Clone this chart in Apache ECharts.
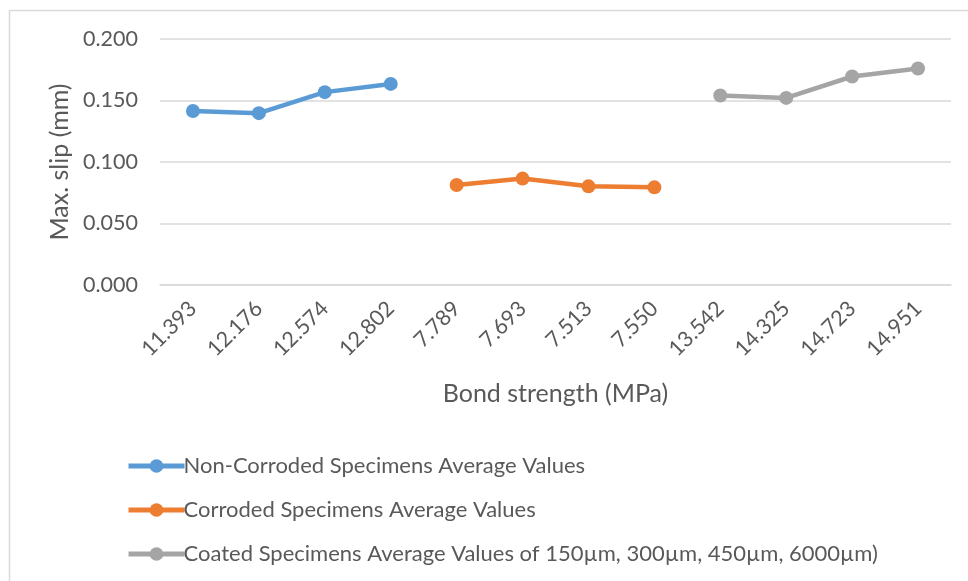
<!DOCTYPE html>
<html>
<head>
<meta charset="utf-8">
<script src="https://cdn.jsdelivr.net/npm/echarts@6/dist/echarts.min.js"></script>
<style>
  html, body { margin: 0; padding: 0; background: #fff; }
  #chart { width: 968px; height: 581px; }
</style>
</head>
<body>
<div id="chart"></div>
<script>
// bond strength categories (MPa), as printed on the x axis
var categories = ['11.393', '12.176', '12.574', '12.802', '7.789', '7.693', '7.513', '7.550', '13.542', '14.325', '14.723', '14.951'];

// max slip (mm)
var nonCorroded = [0.1415, 0.1397, 0.1568, 0.1635, null, null, null, null, null, null, null, null];
var corroded = [null, null, null, null, 0.0813, 0.0865, 0.0802, 0.0794, null, null, null, null];
var coated = [null, null, null, null, null, null, null, null, 0.1541, 0.1521, 0.1695, 0.1760];

var seriesNames = [
    'Non-Corroded Specimens Average Values',
    'Corroded Specimens Average Values',
    'Coated Specimens Average Values of 150\u00b5m, 300\u00b5m, 450\u00b5m, 6000\u00b5m)'
];
var colors = ['#5b9bd5', '#ed7d31', '#a5a5a5'];

var font = 'Lato, "Open Sans", sans-serif';
var txt = '#595959';

function lineSeries(name, data, color) {
    return {
        name: name,
        type: 'line',
        data: data,
        connectNulls: false,
        symbol: 'circle',
        symbolSize: 14,
        lineStyle: { width: 4.5, color: color },
        itemStyle: { color: color },
        emphasis: { disabled: true }
    };
}

var chart = echarts.init(document.getElementById('chart'));
chart.setOption({
    animation: false,
    color: colors,
    textStyle: { fontFamily: font, color: txt },
    graphic: [
        { type: 'line', shape: { x1: 9, y1: 10.5, x2: 968, y2: 10.5 }, style: { stroke: '#d9d9d9', lineWidth: 1.5 } },
        { type: 'line', shape: { x1: 9.5, y1: 10, x2: 9.5, y2: 581 }, style: { stroke: '#d9d9d9', lineWidth: 1.5 } }
    ],
    grid: { left: 160, right: 17, top: 39, bottom: 296 },
    legend: {
        orient: 'vertical',
        left: 121,
        top: 450,
        itemGap: 22,
        itemWidth: 56,
        itemHeight: 17,
        data: seriesNames,
        lineStyle: { width: 5 },
        textStyle: { fontFamily: font, fontSize: 22, color: txt, padding: [0, 0, 0, -6] }
    },
    xAxis: {
        type: 'category',
        data: categories,
        boundaryGap: true,
        name: 'Bond strength (MPa)',
        nameLocation: 'middle',
        nameGap: 96,
        nameTextStyle: { fontFamily: font, fontSize: 25, color: txt },
        axisLine: { lineStyle: { color: '#d9d9d9', width: 1.5 } },
        axisTick: { show: false },
        axisLabel: { rotate: 45, margin: 20, fontFamily: font, fontSize: 21.5, color: txt }
    },
    yAxis: {
        type: 'value',
        min: 0,
        max: 0.2,
        interval: 0.05,
        name: 'Max. slip (mm)',
        nameLocation: 'middle',
        nameGap: 88,
        nameTextStyle: { fontFamily: font, fontSize: 25, color: txt },
        axisLine: { show: false },
        axisTick: { show: false },
        axisLabel: {
            margin: 22,
            fontFamily: font,
            fontSize: 21.5,
            color: txt,
            formatter: function (v) { return v.toFixed(3); }
        },
        splitLine: { lineStyle: { color: '#d9d9d9', width: 1.5 } }
    },
    series: [
        lineSeries(seriesNames[0], nonCorroded, colors[0]),
        lineSeries(seriesNames[1], corroded, colors[1]),
        lineSeries(seriesNames[2], coated, colors[2])
    ]
});
</script>
</body>
</html>
